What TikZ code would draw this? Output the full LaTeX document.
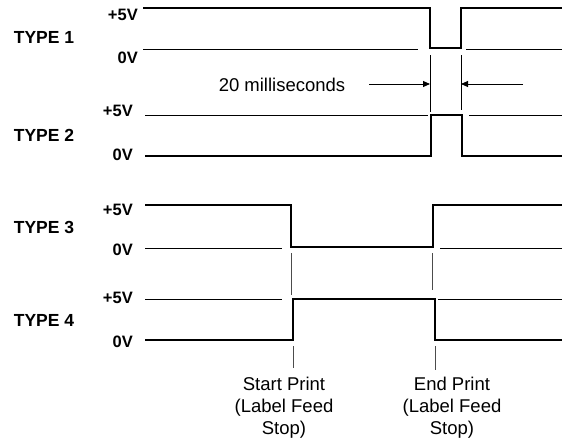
\documentclass[tikz,border=0pt]{standalone}
\usepackage{fontspec}
\setmainfont{Liberation Sans}
\usetikzlibrary{arrows.meta}
\begin{document}
\begin{tikzpicture}[x=1pt,y=-1pt,
  sig/.style={line width=1.7pt,line join=miter},
  ref/.style={line width=1pt},
  markline/.style={line width=0.8pt,black!70},
  dimline/.style={line width=0.9pt},
  dimarrow/.style={line width=0.9pt,-{Triangle[length=7pt,width=6pt]}},
  typelbl/.style={font=\fontsize{17.5}{20}\selectfont\bfseries,inner sep=0pt},
  vlbl/.style={font=\fontsize{16.5}{19}\selectfont\bfseries,inner sep=0pt,anchor=east},
  txt/.style={font=\fontsize{18.5}{22}\selectfont,inner sep=0pt,align=center}]
\useasboundingbox (0,0) rectangle (562,442);
% labels
\node[typelbl] (t1) at (44,37) {TYPE 1};
\node[vlbl] (v1a) at (138,15) {+5V};
\node[vlbl] (v1b) at (138,58) {0V};
\node[typelbl] (t2) at (44,135) {TYPE 2};
\node[vlbl] (v2a) at (133,111) {+5V};
\node[vlbl] (v2b) at (133,155) {0V};
\node[typelbl] (t3) at (44,227) {TYPE 3};
\node[vlbl] (v3a) at (133,210) {+5V};
\node[vlbl] (v3b) at (133,250) {0V};
\node[typelbl] (t4) at (44,320) {TYPE 4};
\node[vlbl] (v4a) at (133,298) {+5V};
\node[vlbl] (v4b) at (133,342) {0V};
% TYPE 1
\draw[ref] (143,49) -- (418,49);
\draw[ref] (466,49) -- (562,49);
\draw[sig] (143,8) -- (430,8) -- (430,48) -- (461,48) -- (461,8) -- (562,8);
% 20 ms dimension
\coordinate (d1t) at (430,55); \coordinate (d1b) at (430,112);
\coordinate (d2t) at (461,55); \coordinate (d2b) at (461,110);
\draw[dimline] (d1t) -- (d1b);
\draw[dimline] (d2t) -- (d2b);
\coordinate (a1s) at (369,84); \coordinate (a1e) at (430,84);
\coordinate (a2s) at (523,84); \coordinate (a2e) at (461,84);
\draw[dimarrow] (a1s) -- (a1e);
\draw[dimarrow] (a2s) -- (a2e);
\node[txt,font=\fontsize{18.5}{21}\selectfont] (ms) at (282,85) {20 milliseconds};
% TYPE 2
\draw[ref] (145,115) -- (428,115);
\draw[ref] (469,115) -- (562,115);
\draw[sig] (145,156) -- (431,156) -- (431,115) -- (462,115) -- (462,156) -- (562,156);
% TYPE 3
\draw[ref] (145,248) -- (282,248);
\draw[ref] (440,248) -- (562,248);
\draw[sig] (145,205) -- (291,205) -- (291,247) -- (433,247) -- (433,205) -- (562,205);
\draw[markline] (291,253) -- (291,295);
\draw[markline] (432,253) -- (432,290);
% TYPE 4
\draw[ref] (145,299) -- (282,299);
\draw[ref] (438,299) -- (562,299);
\draw[sig] (145,340) -- (293,340) -- (293,299) -- (435,299) -- (435,340) -- (562,340);
\draw[markline] (293,346) -- (293,368);
\draw[markline] (435,346) -- (435,370);
% bottom labels
\node[txt,anchor=north] (sp) at (284,377) {Start Print\\(Label Feed\\Stop)};
\node[txt,anchor=north] (ep) at (452,377) {End Print\\(Label Feed\\Stop)};
\end{tikzpicture}
\end{document}
